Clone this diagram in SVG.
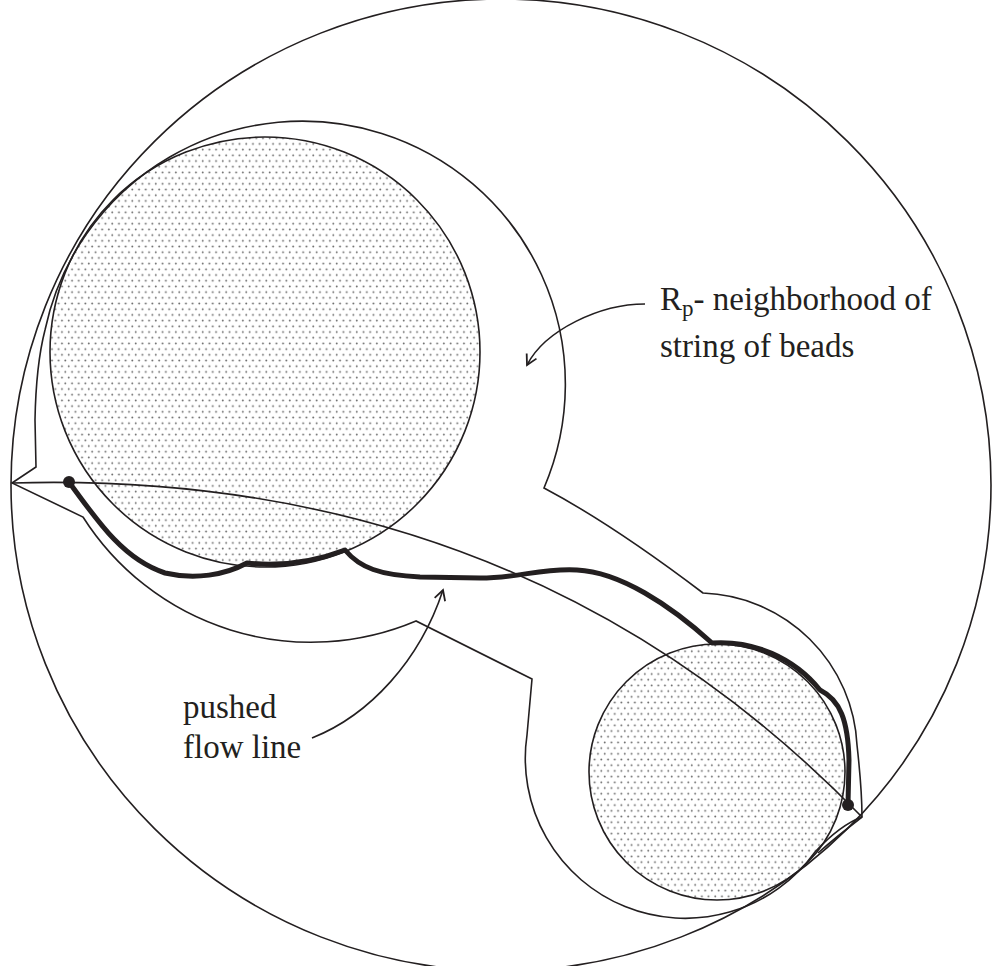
<svg xmlns="http://www.w3.org/2000/svg" width="992" height="966" viewBox="0 0 992 966">
<defs>
<pattern id="stip" width="6.7" height="11.4" patternUnits="userSpaceOnUse">
<circle cx="1.7" cy="1.4" r="0.95" fill="#6a6a6a"/>
<circle cx="5.05" cy="7.1" r="0.95" fill="#6a6a6a"/>
</pattern>
<marker id="arr" markerWidth="14" markerHeight="14" refX="12" refY="7" orient="auto" markerUnits="userSpaceOnUse">
<path d="M2,1.5 L12,7 L2,12.5" fill="none" stroke="#231f20" stroke-width="1.8"/>
</marker>
</defs>
<style>
.thin{fill:none;stroke:#231f20;stroke-width:1.6}
.thick{fill:none;stroke:#231f20;stroke-width:5;stroke-linecap:round;stroke-linejoin:round}
.bead{fill:url(#stip);stroke:#231f20;stroke-width:1.6}
</style>
<rect width="992" height="966" fill="#ffffff"/>
<g id="outer-disk">
<ellipse cx="501" cy="485" rx="490" ry="486" class="thin"/>
</g>
<g id="bead-large">
<circle cx="265" cy="352" r="215" class="bead"/>
</g>
<g id="bead-small">
<circle cx="717" cy="772" r="128" class="bead"/>
</g>
<g id="neighborhood">
<path class="thin" d="M12,483 L36,467 L35,420 Q36,365 45,330 A263,263 0 1,1 544,488 Q612,524 703,593 A160,160 0 0,1 857,745 Q862,790 862,817 Q840,825 815,852 A160,160 0 0,1 527,735 L532,679 L416,621 A270,270 0 0,1 83,517 Z"/>
<path class="thin" d="M862,817 Q835,838 818,853"/>
</g>
<g id="connectors">
<path id="geodesic" class="thin" d="M12,483 Q523,468 862,817"/>
<path id="pushed-flow-line" class="thick" d="M69,482 C100,525 125,560 165,573 C195,580 225,575 247,563 A213,213 0 0,0 345,550 C360,568 380,575 420,577 L480,578 C520,578 540,568 577,570 C620,572 670,605 712,643 A128,128 0 0,1 820,690 C840,700 848,720 849,760 L848,805"/>
<circle cx="69" cy="482" r="6" fill="#231f20"/>
<circle cx="848" cy="805" r="6" fill="#231f20"/>
<path class="thin" d="M645,304 C600,304 545,330 527,365" marker-end="url(#arr)"/>
<path class="thin" d="M312,738 C370,715 420,660 443,590" marker-end="url(#arr)"/>
</g>
<g id="labels">
<text font-family="Liberation Serif, serif" font-size="33" fill="#231f20" x="660" y="310">R<tspan font-size="23" dy="6">p</tspan><tspan dy="-6">- neighborhood of</tspan></text>
<text font-family="Liberation Serif, serif" font-size="33" fill="#231f20" x="660" y="357">string of beads</text>
<text font-family="Liberation Serif, serif" font-size="33" fill="#231f20" x="183" y="718">pushed</text>
<text font-family="Liberation Serif, serif" font-size="33" fill="#231f20" x="183" y="758">flow line</text>
</g>
</svg>
